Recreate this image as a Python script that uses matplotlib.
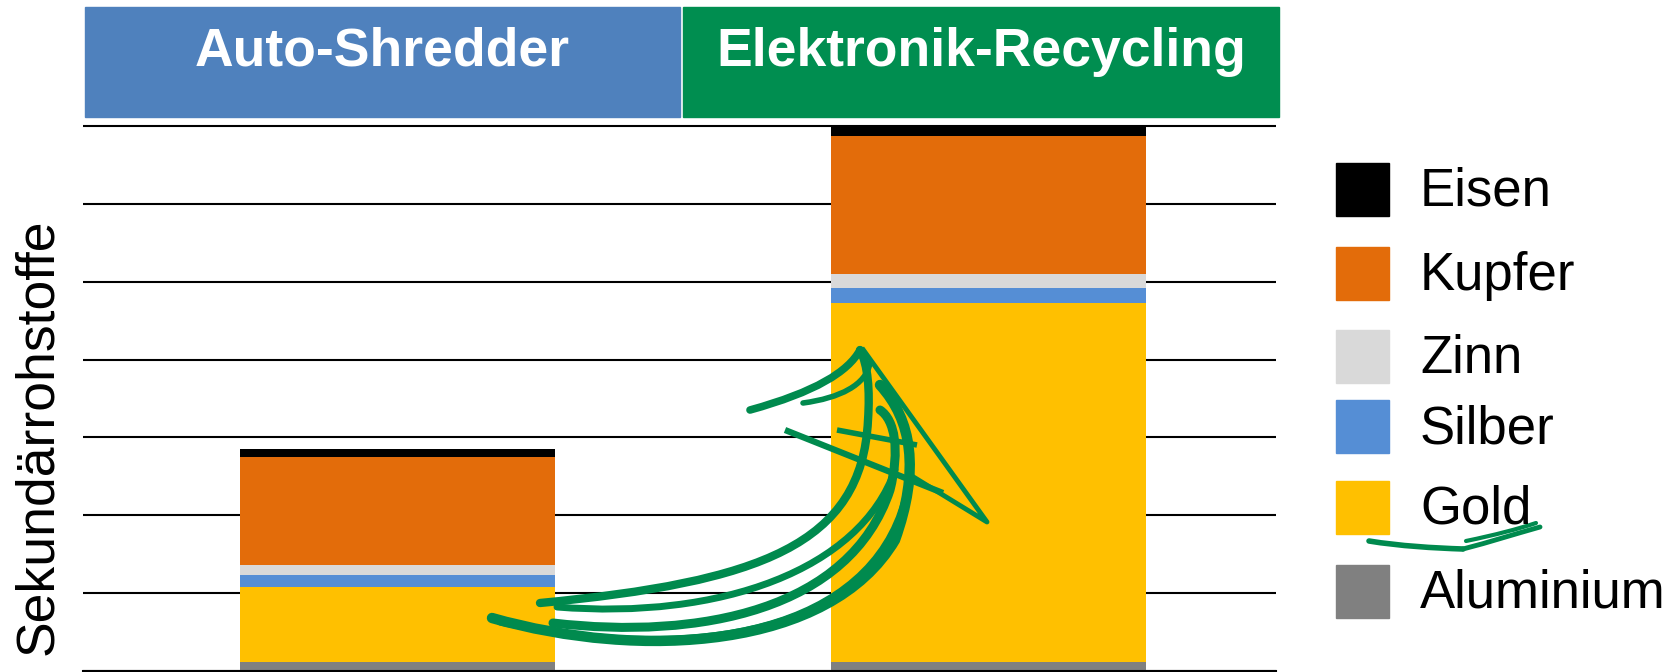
import matplotlib.pyplot as plt
from matplotlib.patches import Rectangle, PathPatch
from matplotlib.path import Path

plt.rcParams["font.family"] = ["Liberation Sans", "DejaVu Sans"]

W, H = 1671, 672

# Daten (Einheiten = Gitterabstände)
categories = ["Auto-Shredder", "Elektronik-Recycling"]
materials = ["Aluminium", "Gold", "Silber", "Zinn", "Kupfer", "Eisen"]
aluminium = [0.12, 0.12]
gold = [0.96, 4.61]
silber = [0.15, 0.19]
zinn = [0.13, 0.18]
kupfer = [1.39, 1.77]
eisen = [0.10, 0.13]
values = [aluminium, gold, silber, zinn, kupfer, eisen]
colors = ["#808080", "#FFC000", "#558ED5", "#D9D9D9", "#E36C0A", "#000000"]
header_colors = ["#4F81BD", "#008E50"]
legend_order = ["Eisen", "Kupfer", "Zinn", "Silber", "Gold", "Aluminium"]
ylabel = "Sekundärrohstoffe"


def fx(px):
    return px / W


def fy(py):
    return 1 - py / H


fig = plt.figure(figsize=(W / 100, H / 100), dpi=100)
ymax = 7.02
unit = 545 / 7.0
ax = fig.add_axes([fx(83), fy(671), fx(1276) - fx(83), ymax * unit / H])

x = list(range(len(categories)))
bottom = [0.0, 0.0]
for vals, col in zip(values, colors):
    ax.bar(x, vals, width=0.533, bottom=bottom, color=col, zorder=2)
    bottom = [b + v for b, v in zip(bottom, vals)]

ax.set_xlim(-0.532, 1.486)
ax.set_ylim(0, ymax)
ax.set_yticks(range(8))
ax.yaxis.grid(True, color="black", lw=1.5)
ax.set_axisbelow(True)
ax.set_xticks([])
ax.tick_params(left=False, labelleft=False)
for s in ["left", "right", "top"]:
    ax.spines[s].set_visible(False)
ax.spines["bottom"].set_linewidth(1.5)
ax.spines["bottom"].set_zorder(3)

# Kopfzeilen
boxes = [(85, 680), (683, 1279)]
for (x0, x1), col, name in zip(boxes, header_colors, categories):
    fig.patches.append(Rectangle((fx(x0), fy(117)), fx(x1) - fx(x0), fy(7) - fy(117),
                                 transform=fig.transFigure, color=col))
    fig.text(fx((x0 + x1) / 2), fy(66), name, color="white", fontsize=38.5,
             fontweight="bold", ha="center", va="baseline")

# y-Beschriftung
fig.text(fx(38), fy(437), ylabel, rotation=90, fontsize=38.5, ha="center", va="center")

# Legende
legend_tops = [163, 247, 330, 400, 481, 565]
col_map = dict(zip(materials, colors))
for name, top in zip(legend_order, legend_tops):
    fig.patches.append(Rectangle((fx(1336), fy(top + 53)), fx(53), 53 / H,
                                 transform=fig.transFigure, color=col_map[name]))
    fig.text(fx(1420), fy(top + 26 + 17), name, fontsize=38, ha="left", va="baseline")

# handgezeichneter Pfeil
green = "#008A4E"


def stroke(pts, lw):
    codes = [Path.MOVETO] + [Path.CURVE4] * (len(pts) - 1)
    verts = [(fx(p[0]), fy(p[1])) for p in pts]
    fig.patches.append(PathPatch(Path(verts, codes), transform=fig.transFigure,
                                 fill=False, ec=green, lw=lw, capstyle="round"))


def line(pts, lw):
    codes = [Path.MOVETO] + [Path.LINETO] * (len(pts) - 1)
    verts = [(fx(p[0]), fy(p[1])) for p in pts]
    fig.patches.append(PathPatch(Path(verts, codes), transform=fig.transFigure,
                                 fill=False, ec=green, lw=lw, joinstyle="round"))


stroke([(540, 603), (760, 582), (862, 545), (868, 420),
        (870, 390), (868, 365), (860, 350)], 6)
stroke([(492, 618), (640, 660), (830, 650), (895, 540),
        (920, 470), (912, 420), (880, 385)], 7.5)
stroke([(553, 623), (700, 640), (850, 610), (890, 490),
        (900, 450), (895, 420), (880, 410)], 6.5)
stroke([(557, 607), (720, 620), (860, 570), (895, 470)], 5)
stroke([(500, 622), (700, 665), (870, 630), (905, 500)], 5)
stroke([(750, 410), (815, 392), (848, 372), (860, 350)], 5.5)
stroke([(803, 403), (840, 398), (866, 385), (870, 363)], 4)
line([(862, 348), (987, 522), (907, 473)], 3.5)
line([(785, 430), (943, 493)], 4.5)
line([(837, 430), (917, 445)], 4)

# Unterstreichung "Gold"
stroke([(1369, 541), (1400, 546), (1433, 548), (1463, 549)], 4)
stroke([(1463, 549), (1490, 542), (1515, 534), (1540, 527)], 3.5)
stroke([(1466, 541), (1495, 535), (1518, 529), (1536, 523)], 3)

fig.savefig("out.png", dpi=100)
